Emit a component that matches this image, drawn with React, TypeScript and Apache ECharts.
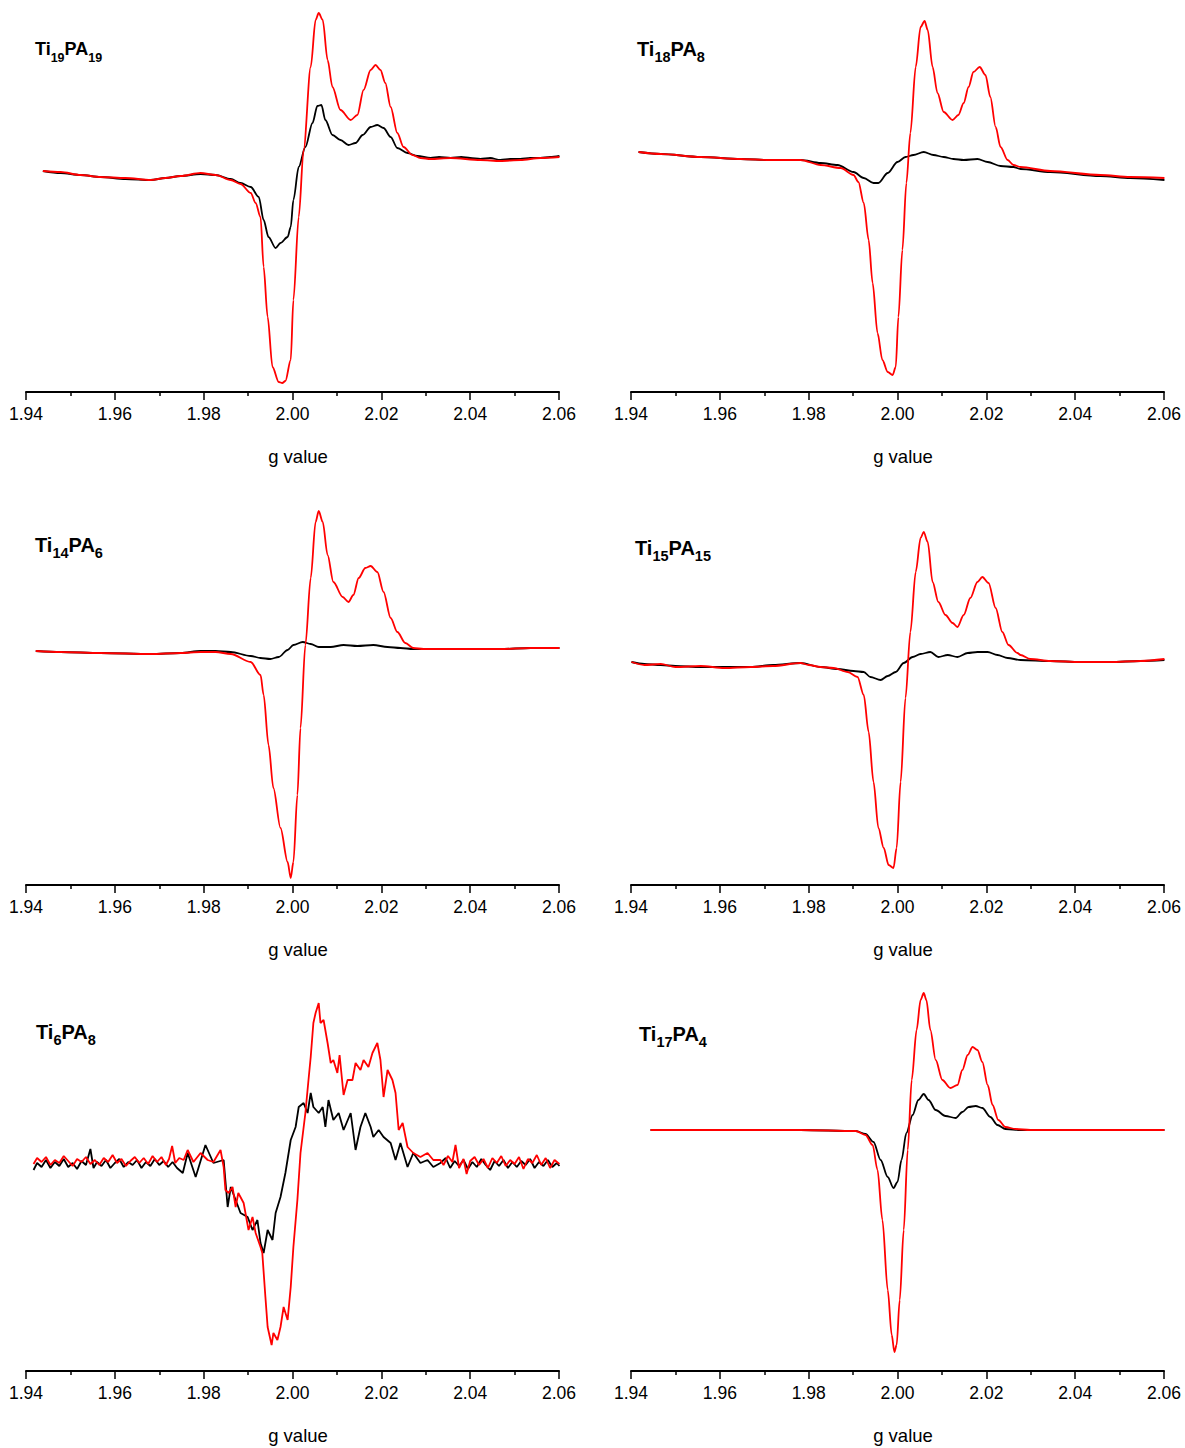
import React, { useEffect, useRef } from "react";
import * as echarts from "echarts";

const FONT = "'Liberation Sans', Arial, Helvetica, sans-serif";

type Pt = [number, number];

// x: g value, y: EPR signal intensity (a.u.)
const gTicks = [1.94, 1.96, 1.98, 2.0, 2.02, 2.04, 2.06];

const ti19pa19Black: Pt[] = [
  [1.9438, 221], [1.9478, 219], [1.9523, 217], [1.9568, 215], [1.9624, 213], [1.9681, 212], [1.9714, 214],
  [1.9748, 216], [1.9793, 218], [1.9827, 217], [1.9861, 213], [1.9883, 209], [1.9906, 205], [1.9924, 195],
  [1.9935, 172], [1.9946, 155], [1.9962, 144], [1.9973, 149], [1.9989, 155], [1.9996, 165], [2.0002, 192],
  [2.0014, 225], [2.0029, 245], [2.0045, 269], [2.0056, 286], [2.0065, 287], [2.0074, 272], [2.009, 257],
  [2.0108, 252], [2.0126, 247], [2.0142, 249], [2.0158, 257], [2.0176, 265], [2.0191, 267], [2.0205, 264],
  [2.0221, 255], [2.0236, 244], [2.0259, 239], [2.0281, 236], [2.0311, 234], [2.033, 235], [2.0356, 234],
  [2.038, 235], [2.04, 234], [2.0423, 233], [2.0445, 234], [2.0468, 232], [2.049, 233], [2.0513, 233],
  [2.0535, 234], [2.0558, 234], [2.058, 235], [2.0601, 236],
];
const ti19pa19Red: Pt[] = [
  [1.9438, 221], [1.9478, 220], [1.9523, 217], [1.9568, 215], [1.9624, 214], [1.9681, 212], [1.9714, 214],
  [1.9748, 216], [1.9793, 219], [1.9827, 217], [1.9861, 212], [1.9883, 208], [1.9906, 199], [1.9917, 189],
  [1.9928, 175], [1.9935, 125], [1.9944, 75], [1.9955, 25], [1.9969, 10], [1.9977, 9], [1.9984, 11], [1.9996, 32],
  [2.0002, 92], [2.0014, 175], [2.0025, 242], [2.0041, 325], [2.0052, 372], [2.0059, 379], [2.0068, 372],
  [2.0079, 332], [2.009, 305], [2.0108, 282], [2.0131, 272], [2.0146, 277], [2.016, 302], [2.0176, 322],
  [2.0187, 327], [2.0198, 322], [2.0209, 309], [2.0221, 285], [2.0236, 259], [2.025, 245], [2.027, 237],
  [2.0288, 234], [2.0311, 233], [2.0356, 234], [2.0423, 232], [2.0468, 231], [2.0513, 232], [2.0558, 234],
  [2.0601, 235],
];

const ti18pa8Black: Pt[] = [
  [1.9417, 240], [1.9467, 238], [1.9557, 235], [1.9647, 233], [1.9714, 232], [1.9782, 232], [1.9827, 229],
  [1.9865, 227], [1.9901, 220], [1.9924, 214], [1.9946, 209], [1.9957, 209], [1.9978, 219], [2.0, 230],
  [2.0018, 235], [2.0036, 237], [2.0059, 240], [2.0081, 237], [2.0104, 235], [2.0126, 233], [2.0149, 232],
  [2.018, 233], [2.0203, 230], [2.0232, 226], [2.0261, 225], [2.0277, 223], [2.0344, 220], [2.0457, 216],
  [2.0524, 214], [2.0601, 212],
];
const ti18pa8Red: Pt[] = [
  [1.9417, 240], [1.9467, 238], [1.9557, 235], [1.9647, 233], [1.9714, 232], [1.9782, 232], [1.9827, 227],
  [1.9872, 224], [1.9901, 217], [1.9912, 210], [1.9924, 189], [1.9935, 152], [1.9944, 109], [1.9955, 59],
  [1.9966, 32], [1.9978, 20], [1.9989, 17], [1.9996, 25], [2.0002, 75], [2.0011, 142], [2.002, 209],
  [2.0029, 259], [2.0041, 325], [2.0052, 365], [2.0061, 371], [2.0068, 362], [2.0079, 325], [2.009, 299],
  [2.0104, 280], [2.0124, 272], [2.0137, 277], [2.0149, 289], [2.016, 305], [2.0171, 320], [2.0185, 325],
  [2.0198, 317], [2.0209, 295], [2.0221, 265], [2.0232, 245], [2.0248, 232], [2.0261, 227], [2.0277, 225],
  [2.0344, 221], [2.0457, 217], [2.0524, 215], [2.0601, 214],
];

const ti14pa6Black: Pt[] = [
  [1.9422, 234], [1.9478, 233], [1.9568, 232], [1.9681, 231], [1.9748, 232], [1.9793, 234], [1.9827, 234],
  [1.9861, 233], [1.9906, 229], [1.9928, 227], [1.995, 226], [1.9969, 228], [1.9989, 235], [2.0002, 240],
  [2.0023, 243], [2.0041, 241], [2.0059, 238], [2.0086, 238], [2.0115, 240], [2.0146, 239], [2.0182, 240],
  [2.0214, 238], [2.0243, 237], [2.0272, 236], [2.0311, 236], [2.0378, 236], [2.0468, 236], [2.0536, 237],
  [2.0601, 237],
];
const ti14pa6Red: Pt[] = [
  [1.9422, 234], [1.9478, 233], [1.9568, 232], [1.9681, 231], [1.9748, 232], [1.9793, 233], [1.9827, 233],
  [1.9861, 231], [1.9906, 223], [1.9928, 210], [1.9935, 190], [1.9946, 140], [1.9957, 97], [1.9973, 57],
  [1.9989, 23], [1.9996, 7], [2.0002, 23], [2.0011, 90], [2.0018, 157], [2.0029, 240], [2.0041, 307],
  [2.0052, 363], [2.0059, 374], [2.0068, 363], [2.0079, 330], [2.0092, 303], [2.0113, 288], [2.0126, 283],
  [2.0137, 290], [2.0149, 307], [2.0164, 317], [2.0176, 319], [2.0191, 313], [2.0205, 293], [2.0221, 267],
  [2.0236, 253], [2.0254, 242], [2.0272, 237], [2.0295, 236], [2.0311, 236], [2.0378, 236], [2.0468, 236],
  [2.0536, 237], [2.0601, 237],
];

const ti15pa15Black: Pt[] = [
  [1.9401, 223], [1.943, 221], [1.9467, 220], [1.95, 219], [1.9557, 218], [1.961, 218], [1.9669, 218],
  [1.972, 220], [1.9782, 222], [1.9827, 218], [1.9865, 216], [1.9901, 214], [1.9924, 213], [1.9939, 208],
  [1.9962, 205], [1.9978, 209], [1.9996, 213], [2.0014, 222], [2.0034, 228], [2.0052, 231], [2.0074, 233],
  [2.0092, 228], [2.0113, 230], [2.0135, 228], [2.0158, 232], [2.018, 233], [2.0203, 233], [2.0225, 230],
  [2.0248, 227], [2.0277, 225], [2.0344, 224], [2.0412, 223], [2.0479, 223], [2.0547, 224], [2.0601, 225],
];
const ti15pa15Red: Pt[] = [
  [1.9401, 223], [1.943, 220], [1.9467, 221], [1.95, 218], [1.9557, 219], [1.961, 217], [1.9669, 218],
  [1.972, 219], [1.9782, 222], [1.98, 220], [1.9827, 218], [1.9856, 217], [1.9888, 213], [1.991, 208],
  [1.9924, 190], [1.9935, 153], [1.9946, 103], [1.9957, 57], [1.9969, 37], [1.998, 20], [1.9991, 17],
  [1.9998, 37], [2.0007, 103], [2.0018, 187], [2.0029, 253], [2.0041, 313], [2.0052, 347], [2.0059, 353],
  [2.0068, 343], [2.0079, 303], [2.0092, 283], [2.0108, 270], [2.0124, 262], [2.0135, 258], [2.0149, 270],
  [2.0164, 287], [2.018, 303], [2.0191, 308], [2.0205, 302], [2.0221, 277], [2.0236, 253], [2.025, 240],
  [2.027, 232], [2.0277, 230], [2.0299, 226], [2.0344, 224], [2.0412, 223], [2.0479, 223], [2.0547, 224],
  [2.0601, 226],
];

const ti6pa8Black: Pt[] = [
  [1.9417, 201], [1.9425, 208], [1.9435, 204], [1.9445, 211], [1.9455, 203], [1.9465, 209], [1.9475, 205],
  [1.9485, 212], [1.9495, 204], [1.9505, 208], [1.9515, 202], [1.9525, 210], [1.9535, 206], [1.9545, 222],
  [1.9552, 203], [1.956, 209], [1.957, 205], [1.958, 211], [1.959, 203], [1.96, 208], [1.961, 212],
  [1.962, 204], [1.963, 209], [1.964, 206], [1.965, 211], [1.966, 203], [1.967, 209], [1.968, 205],
  [1.969, 212], [1.97, 206], [1.971, 210], [1.972, 204], [1.973, 209], [1.974, 203], [1.9753, 198],
  [1.9764, 218], [1.9782, 194], [1.9804, 226], [1.9822, 208], [1.9845, 211], [1.9854, 164], [1.9861, 184],
  [1.9872, 171], [1.9883, 158], [1.9899, 154], [1.991, 141], [1.9921, 151], [1.9928, 128], [1.9935, 118],
  [1.9944, 141], [1.9955, 131], [1.9962, 158], [1.9973, 174], [1.9984, 198], [1.9996, 231], [2.0007, 244],
  [2.0014, 264], [2.0025, 268], [2.0034, 258], [2.0041, 278], [2.0047, 264], [2.0059, 258], [2.0068, 264],
  [2.0074, 244], [2.0081, 271], [2.0092, 251], [2.0104, 258], [2.0115, 241], [2.0131, 258], [2.0142, 221],
  [2.0153, 244], [2.0164, 258], [2.0176, 244], [2.0182, 234], [2.0194, 241], [2.0205, 234], [2.0221, 228],
  [2.0232, 211], [2.0243, 228], [2.0259, 204], [2.0272, 218], [2.0288, 208], [2.0304, 211], [2.0317, 204],
  [2.0333, 208], [2.0345, 213], [2.0355, 203], [2.0365, 210], [2.0375, 205], [2.0385, 211], [2.0395, 202],
  [2.0405, 209], [2.0415, 204], [2.0425, 212], [2.0435, 206], [2.0445, 201], [2.0455, 210], [2.0465, 205],
  [2.0475, 211], [2.0485, 203], [2.0495, 209], [2.0505, 204], [2.0515, 210], [2.0525, 206], [2.0535, 212],
  [2.0545, 203], [2.0555, 209], [2.0565, 205], [2.0575, 211], [2.0585, 204], [2.0595, 208], [2.0601, 205],
];
const ti6pa8Red: Pt[] = [
  [1.9417, 207], [1.9425, 213], [1.9435, 209], [1.9445, 214], [1.9455, 206], [1.9465, 211], [1.9475, 208],
  [1.9485, 215], [1.9495, 210], [1.9505, 205], [1.9515, 212], [1.9525, 209], [1.9535, 214], [1.9545, 207],
  [1.9555, 211], [1.9565, 206], [1.9575, 213], [1.9585, 209], [1.9595, 216], [1.9605, 208], [1.9615, 212],
  [1.9625, 205], [1.9635, 210], [1.9645, 214], [1.9655, 208], [1.9665, 213], [1.9675, 207], [1.9685, 215],
  [1.9695, 209], [1.9705, 214], [1.9715, 206], [1.9722, 212], [1.9729, 225], [1.9736, 208], [1.9745, 213],
  [1.9755, 211], [1.9764, 221], [1.9777, 209], [1.9793, 218], [1.9809, 211], [1.9822, 209], [1.9838, 221],
  [1.9845, 204], [1.9849, 181], [1.9856, 178], [1.9865, 184], [1.9872, 164], [1.9878, 178], [1.989, 168],
  [1.9901, 141], [1.991, 154], [1.9917, 138], [1.9928, 124], [1.9932, 118], [1.9939, 74], [1.9944, 44],
  [1.9953, 26], [1.9957, 38], [1.9966, 31], [1.9973, 44], [1.998, 64], [1.9989, 51], [1.9996, 84],
  [2.0002, 124], [2.0011, 171], [2.0018, 218], [2.0029, 258], [2.0036, 291], [2.0041, 314], [2.0047, 348],
  [2.0052, 358], [2.0059, 368], [2.0063, 348], [2.007, 351], [2.0079, 328], [2.0086, 308], [2.0092, 311],
  [2.0101, 298], [2.0106, 316], [2.0115, 276], [2.0124, 291], [2.0135, 291], [2.0142, 308], [2.0153, 301],
  [2.016, 311], [2.0171, 304], [2.018, 318], [2.0191, 328], [2.0198, 311], [2.0205, 274], [2.0214, 301],
  [2.0225, 291], [2.0232, 278], [2.0239, 241], [2.0248, 248], [2.0259, 224], [2.0272, 218], [2.0288, 214],
  [2.0304, 218], [2.0317, 211], [2.0333, 211], [2.034, 206], [2.035, 215], [2.036, 209], [2.0367, 226],
  [2.0375, 203], [2.0385, 212], [2.0392, 197], [2.04, 210], [2.041, 214], [2.042, 206], [2.043, 212],
  [2.044, 203], [2.045, 213], [2.046, 208], [2.047, 215], [2.048, 205], [2.049, 211], [2.05, 207],
  [2.051, 214], [2.052, 202], [2.053, 212], [2.054, 208], [2.055, 216], [2.056, 206], [2.057, 213],
  [2.058, 203], [2.059, 211], [2.0601, 207],
];

const ti17pa4Black: Pt[] = [
  [1.9444, 241], [1.9557, 241], [1.9782, 241], [1.9906, 240], [1.9928, 237], [1.9946, 229], [1.9962, 211],
  [1.9978, 194], [1.9991, 183], [2.0, 189], [2.0009, 211], [2.002, 238], [2.0034, 256], [2.0047, 271],
  [2.0059, 277], [2.007, 271], [2.0086, 261], [2.0108, 255], [2.0131, 253], [2.0146, 259], [2.016, 264],
  [2.0176, 265], [2.0191, 263], [2.0209, 254], [2.0225, 246], [2.0243, 242], [2.0277, 241], [2.0601, 241],
];
const ti17pa4Red: Pt[] = [
  [1.9444, 241], [1.9557, 241], [1.9782, 241], [1.9906, 240], [1.9928, 236], [1.9944, 226], [1.9955, 201],
  [1.9966, 151], [1.9978, 81], [1.9987, 36], [1.9993, 19], [1.9998, 26], [2.0005, 71], [2.0014, 141],
  [2.0023, 221], [2.0032, 291], [2.0043, 341], [2.0052, 371], [2.0059, 378], [2.0065, 371], [2.0074, 341],
  [2.0086, 311], [2.0101, 291], [2.0119, 283], [2.0135, 286], [2.0146, 301], [2.0158, 316], [2.0169, 324],
  [2.018, 321], [2.0191, 309], [2.0203, 286], [2.0214, 266], [2.0227, 251], [2.0243, 244], [2.0266, 242],
  [2.0299, 241], [2.0601, 241],
];

const sampleTi = ["19", "18", "14", "15", "6", "17"];
const samplePA = ["19", "8", "6", "15", "8", "4"];
const blackSeries = [ti19pa19Black, ti18pa8Black, ti14pa6Black, ti15pa15Black, ti6pa8Black, ti17pa4Black];
const redSeries = [ti19pa19Red, ti18pa8Red, ti14pa6Red, ti15pa15Red, ti6pa8Red, ti17pa4Red];
const noisyPanel = [false, false, false, false, true, false];

// layout
const gridLefts = [26, 631];
const gridTops = [0, 493, 979];
const GRID_W = 533;
const GRID_H = 392;
const titlePos: [number, number][] = [
  [35, 40], [637, 39], [35, 535], [635, 538], [36, 1022], [639, 1024],
];
const titleMain = [18, 20, 20, 20, 20, 20];
const titleSub = [12.5, 14.5, 14.5, 14.5, 14.5, 14.5];

export default function App() {
  const ref = useRef<HTMLDivElement>(null);
  useEffect(() => {
    document.body.style.margin = "0";
    if (!ref.current) return;
    const chart = echarts.init(ref.current, undefined, { renderer: "svg" });
    const grids: any[] = [];
    const xAxes: any[] = [];
    const yAxes: any[] = [];
    const series: any[] = [];
    const graphic: any[] = [];
    for (let i = 0; i < 6; i++) {
      const col = i % 2;
      const row = Math.floor(i / 2);
      grids.push({ left: gridLefts[col], top: gridTops[row], width: GRID_W, height: GRID_H, containLabel: false });
      xAxes.push({
        type: "value",
        gridIndex: i,
        min: gTicks[0],
        max: gTicks[gTicks.length - 1],
        interval: 0.02,
        name: "g value",
        nameLocation: "middle",
        nameGap: 55,
        nameTextStyle: { fontFamily: FONT, fontSize: 18.5, color: "#000", padding: [0, 0, 0, 11] },
        axisLine: { show: true, onZero: false, lineStyle: { color: "#000", width: 2 } },
        axisTick: { show: true, inside: false, length: 8, lineStyle: { color: "#000", width: 1.5 } },
        minorTick: { show: true, splitNumber: 2, length: 4, lineStyle: { color: "#000", width: 1.5 } },
        axisLabel: {
          margin: 13,
          fontFamily: FONT,
          fontSize: 17.5,
          color: "#000",
          formatter: (v: number) => v.toFixed(2),
        },
        splitLine: { show: false },
        minorSplitLine: { show: false },
      });
      yAxes.push({ type: "value", gridIndex: i, show: false, min: 0, max: GRID_H, splitLine: { show: false } });
      const smooth = noisyPanel[i] ? false : 0.3;
      series.push({
        type: "line",
        xAxisIndex: i,
        yAxisIndex: i,
        data: blackSeries[i],
        showSymbol: false,
        symbol: "none",
        smooth,
        smoothMonotone: "x",
        lineStyle: { color: "#000", width: 1.8 },
        itemStyle: { color: "#000" },
        z: 2,
      });
      series.push({
        type: "line",
        xAxisIndex: i,
        yAxisIndex: i,
        data: redSeries[i],
        showSymbol: false,
        symbol: "none",
        smooth,
        smoothMonotone: "x",
        lineStyle: { color: "#ff0000", width: 1.8 },
        itemStyle: { color: "#ff0000" },
        z: 3,
      });
      graphic.push({
        type: "text",
        left: titlePos[i][0],
        top: titlePos[i][1],
        style: {
          text: `{b|Ti}{s|${sampleTi[i]}}{b|PA}{s|${samplePA[i]}}`,
          fill: "#000",
          rich: {
            b: { fontFamily: FONT, fontSize: titleMain[i], fontWeight: "bold", lineHeight: 30, verticalAlign: "middle", fill: "#000" },
            s: { fontFamily: FONT, fontSize: titleSub[i], fontWeight: "bold", lineHeight: 30, verticalAlign: "bottom", fill: "#000" },
          },
        },
      });
    }
    chart.setOption({
      animation: false,
      backgroundColor: "#fff",
      grid: grids,
      xAxis: xAxes,
      yAxis: yAxes,
      series,
      graphic,
    });
    return () => chart.dispose();
  }, []);
  return <div ref={ref} style={{ width: 1185, height: 1448 }} />;
}
